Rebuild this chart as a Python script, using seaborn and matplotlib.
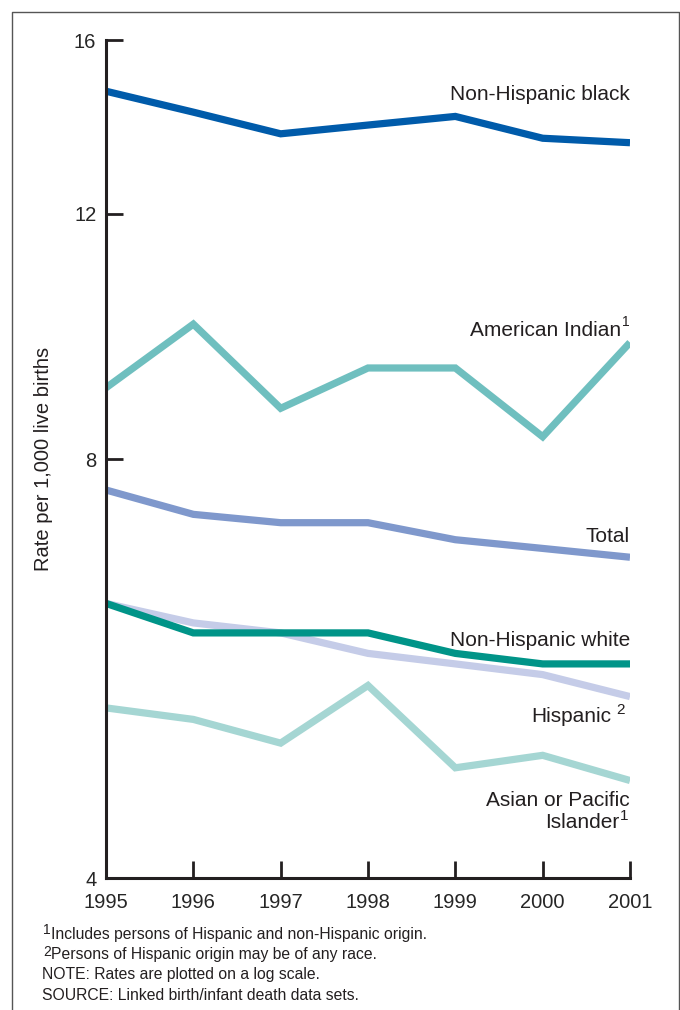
import matplotlib
matplotlib.use("Agg")
import matplotlib.pyplot as plt
import matplotlib.ticker as mticker
from matplotlib.lines import Line2D
import seaborn as sns
import pandas as pd

years = [1995, 1996, 1997, 1998, 1999, 2000, 2001]
nh_black = [14.7, 14.2, 13.7, 13.9, 14.1, 13.6, 13.5]
am_indian = [9.0, 10.0, 8.7, 9.3, 9.3, 8.3, 9.7]
total = [7.6, 7.3, 7.2, 7.2, 7.0, 6.9, 6.8]
nh_white = [6.3, 6.0, 6.0, 6.0, 5.8, 5.7, 5.7]
hispanic = [6.3, 6.1, 6.0, 5.8, 5.7, 5.6, 5.4]
asian_pi = [5.3, 5.2, 5.0, 5.5, 4.8, 4.9, 4.7]

series_names = ["Non-Hispanic black", "American Indian", "Total",
                "Hispanic", "Non-Hispanic white", "Asian or Pacific Islander"]
series_vals = [nh_black, am_indian, total, hispanic, nh_white, asian_pi]
colors = ["#005BAA", "#6FBFBF", "#7F98CC", "#C5CCE8", "#009488", "#A5D6D3"]
y_ticks = [4, 8, 12, 16]

rows = []
for name, vals in zip(series_names, series_vals):
    for yr, v in zip(years, vals):
        rows.append({"year": yr, "rate": v, "group": name})
df = pd.DataFrame(rows)

sns.set_theme(style="white")
plt.rcParams["font.family"] = ["Liberation Sans", "DejaVu Sans"]

fig = plt.figure(figsize=(6.8, 10.1), dpi=100)
ax = fig.add_axes([106/680, 1-878/1010, (630-106)/680, (878-40)/1010])

sns.lineplot(data=df, x="year", y="rate", hue="group", hue_order=series_names,
             palette=dict(zip(series_names, colors)), linewidth=5.2,
             legend=False, ax=ax, solid_joinstyle="miter", solid_capstyle="butt")

ax.set_yscale("log")
ax.set_ylim(4, 16)
ax.set_xlim(1995, 2001)
ax.yaxis.set_major_locator(mticker.FixedLocator(y_ticks))
ax.yaxis.set_major_formatter(mticker.FixedFormatter([str(t) for t in y_ticks]))
ax.yaxis.set_minor_locator(mticker.NullLocator())
ax.set_xticks(years)
ax.set_xticklabels([str(y) for y in years])

for s in ["top", "right"]:
    ax.spines[s].set_visible(False)
for s in ["left", "bottom"]:
    ax.spines[s].set_color("#231f20")
    ax.spines[s].set_linewidth(2.2)
ax.tick_params(axis="y", direction="in", length=12, width=2, color="#231f20",
               labelsize=14.5, pad=7, left=True)
ax.tick_params(axis="x", direction="in", length=12, width=2, color="#231f20",
               labelsize=14.5, pad=11, bottom=True)
ax.set_xlabel("")
ax.set_ylabel("Rate per 1,000 live births", fontsize=14.5, color="#231f20")
ax.yaxis.set_label_coords(-53/524, 0.5)
ax.patch.set_alpha(0)

lab_kw = dict(fontsize=15, ha="right", va="center", color="#231f20")
def fy(py):
    return 1 - py/1010
def fx(px):
    return px/680
fig.text(fx(630), fy(94), "Non-Hispanic black", **lab_kw)
fig.text(fx(621), fy(330), "American Indian", **lab_kw)
fig.text(fx(622), fy(322), "1", fontsize=10, ha="left", va="center", color="#231f20")
fig.text(fx(630), fy(537), "Total", **lab_kw)
fig.text(fx(630), fy(640), "Non-Hispanic white", **lab_kw)
fig.text(fx(611), fy(716), "Hispanic", **lab_kw)
fig.text(fx(616), fy(710), "2", fontsize=11, ha="left", va="center", color="#231f20")
fig.text(fx(630), fy(800), "Asian or Pacific", **lab_kw)
fig.text(fx(619), fy(822), "Islander", **lab_kw)
fig.text(fx(620), fy(816), "1", fontsize=11, ha="left", va="center", color="#231f20")

fn_kw = dict(fontsize=11.3, ha="left", va="center", color="#231f20")
fig.text(fx(43), fy(930), "1", fontsize=10, ha="left", va="center", color="#231f20")
fig.text(fx(51), fy(935), "Includes persons of Hispanic and non-Hispanic origin.", **fn_kw)
fig.text(fx(43), fy(952), "2", fontsize=10, ha="left", va="center", color="#231f20")
fig.text(fx(51), fy(955), "Persons of Hispanic origin may be of any race.", **fn_kw)
fig.text(fx(42), fy(975), "NOTE: Rates are plotted on a log scale.", **fn_kw)
fig.text(fx(42), fy(995), "SOURCE: Linked birth/infant death data sets.", **fn_kw)

# frame around figure (open at bottom)
frame = Line2D([fx(12), fx(12), fx(679), fx(679)], [0, fy(12), fy(12), 0],
               transform=fig.transFigure, color="#555555", linewidth=1.0)
fig.add_artist(frame)

fig.savefig("out.png", dpi=100, facecolor="white")
